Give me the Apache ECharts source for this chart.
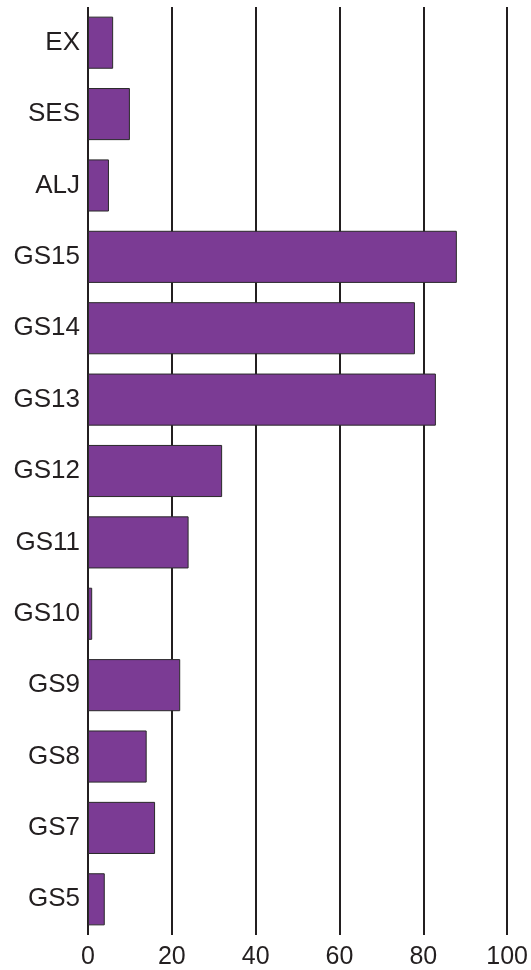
<!DOCTYPE html>
<html>
<head>
<meta charset="utf-8">
<script src="https://cdn.jsdelivr.net/npm/echarts@6/dist/echarts.min.js"></script>
<style>
  html, body { margin: 0; padding: 0; background: #fff; }
  #chart { width: 531px; height: 970px; }
</style>
</head>
<body>
<div id="chart"></div>
<script>
// categories top to bottom
var categories = ['EX', 'SES', 'ALJ', 'GS15', 'GS14', 'GS13', 'GS12', 'GS11', 'GS10', 'GS9', 'GS8', 'GS7', 'GS5'];
var values = [6, 10, 5, 88, 78, 83, 32, 24, 1, 22, 14, 16, 4];

var chart = echarts.init(document.getElementById('chart'));
chart.setOption({
    animation: false,
    grid: {
        left: 88,
        right: 22,
        top: 7,
        bottom: 35
    },
    xAxis: {
        type: 'value',
        min: 0,
        max: 100,
        interval: 20,
        axisLine: { show: false },
        axisTick: { show: false },
        axisLabel: {
            fontFamily: 'Liberation Sans, Arial, sans-serif',
            fontSize: 25,
            color: '#231f20',
            margin: 10
        },
        splitLine: {
            show: true,
            lineStyle: { color: '#231f20', width: 2 }
        }
    },
    yAxis: {
        type: 'category',
        data: categories,
        inverse: true,
        axisLine: { show: false },
        axisTick: { show: false },
        axisLabel: {
            fontFamily: 'Liberation Sans, Arial, sans-serif',
            fontSize: 26,
            color: '#231f20',
            margin: 8
        }
    },
    series: [{
        type: 'bar',
        data: values,
        barCategoryGap: '27%',
        itemStyle: {
            color: '#7b3b94',
            borderColor: '#2a2a2a',
            borderWidth: 1
        }
    }]
});
</script>
</body>
</html>
